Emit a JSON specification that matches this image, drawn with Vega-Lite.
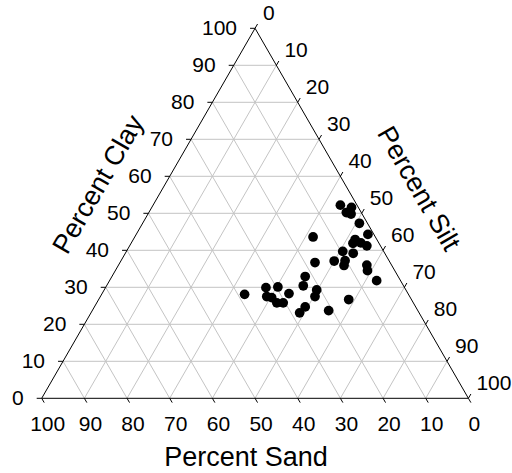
{
  "$schema": "https://vega.github.io/schema/vega-lite/v6.json",
  "width": 426.7,
  "height": 370,
  "autosize": "none",
  "padding": {"left": 41.7, "top": 28.3, "right": 43.6, "bottom": 74.7},
  "background": "white",
  "config": {"view": {"stroke": null}, "font": "Liberation Sans"},
  "datasets": {
    "lines": [
      {"kind": "grid", "clay1": 10, "silt1": 0, "clay2": 10, "silt2": 90},
      {"kind": "grid", "clay1": 20, "silt1": 0, "clay2": 20, "silt2": 80},
      {"kind": "grid", "clay1": 30, "silt1": 0, "clay2": 30, "silt2": 70},
      {"kind": "grid", "clay1": 40, "silt1": 0, "clay2": 40, "silt2": 60},
      {"kind": "grid", "clay1": 50, "silt1": 0, "clay2": 50, "silt2": 50},
      {"kind": "grid", "clay1": 60, "silt1": 0, "clay2": 60, "silt2": 40},
      {"kind": "grid", "clay1": 70, "silt1": 0, "clay2": 70, "silt2": 30},
      {"kind": "grid", "clay1": 80, "silt1": 0, "clay2": 80, "silt2": 20},
      {"kind": "grid", "clay1": 90, "silt1": 0, "clay2": 90, "silt2": 10},
      {"kind": "grid", "clay1": 0, "silt1": 90, "clay2": 90, "silt2": 0},
      {"kind": "grid", "clay1": 0, "silt1": 80, "clay2": 80, "silt2": 0},
      {"kind": "grid", "clay1": 0, "silt1": 70, "clay2": 70, "silt2": 0},
      {"kind": "grid", "clay1": 0, "silt1": 60, "clay2": 60, "silt2": 0},
      {"kind": "grid", "clay1": 0, "silt1": 50, "clay2": 50, "silt2": 0},
      {"kind": "grid", "clay1": 0, "silt1": 40, "clay2": 40, "silt2": 0},
      {"kind": "grid", "clay1": 0, "silt1": 30, "clay2": 30, "silt2": 0},
      {"kind": "grid", "clay1": 0, "silt1": 20, "clay2": 20, "silt2": 0},
      {"kind": "grid", "clay1": 0, "silt1": 10, "clay2": 10, "silt2": 0},
      {"kind": "grid", "clay1": 0, "silt1": 10, "clay2": 90, "silt2": 10},
      {"kind": "grid", "clay1": 0, "silt1": 20, "clay2": 80, "silt2": 20},
      {"kind": "grid", "clay1": 0, "silt1": 30, "clay2": 70, "silt2": 30},
      {"kind": "grid", "clay1": 0, "silt1": 40, "clay2": 60, "silt2": 40},
      {"kind": "grid", "clay1": 0, "silt1": 50, "clay2": 50, "silt2": 50},
      {"kind": "grid", "clay1": 0, "silt1": 60, "clay2": 40, "silt2": 60},
      {"kind": "grid", "clay1": 0, "silt1": 70, "clay2": 30, "silt2": 70},
      {"kind": "grid", "clay1": 0, "silt1": 80, "clay2": 20, "silt2": 80},
      {"kind": "grid", "clay1": 0, "silt1": 90, "clay2": 10, "silt2": 90},
      {"kind": "edge", "clay1": 0, "silt1": 0, "clay2": 100, "silt2": 0},
      {"kind": "edge", "clay1": 100, "silt1": 0, "clay2": 0, "silt2": 100},
      {"kind": "edge", "clay1": 0, "silt1": 0, "clay2": 0, "silt2": 100}
    ],
    "ticks": [
      {"axis": "sand", "value": 100, "clay": 0, "silt": 0},
      {"axis": "sand", "value": 90, "clay": 0, "silt": 10},
      {"axis": "sand", "value": 80, "clay": 0, "silt": 20},
      {"axis": "sand", "value": 70, "clay": 0, "silt": 30},
      {"axis": "sand", "value": 60, "clay": 0, "silt": 40},
      {"axis": "sand", "value": 50, "clay": 0, "silt": 50},
      {"axis": "sand", "value": 40, "clay": 0, "silt": 60},
      {"axis": "sand", "value": 30, "clay": 0, "silt": 70},
      {"axis": "sand", "value": 20, "clay": 0, "silt": 80},
      {"axis": "sand", "value": 10, "clay": 0, "silt": 90},
      {"axis": "sand", "value": 0, "clay": 0, "silt": 100},
      {"axis": "clay", "value": 0, "clay": 0, "silt": 0},
      {"axis": "clay", "value": 10, "clay": 10, "silt": 0},
      {"axis": "clay", "value": 20, "clay": 20, "silt": 0},
      {"axis": "clay", "value": 30, "clay": 30, "silt": 0},
      {"axis": "clay", "value": 40, "clay": 40, "silt": 0},
      {"axis": "clay", "value": 50, "clay": 50, "silt": 0},
      {"axis": "clay", "value": 60, "clay": 60, "silt": 0},
      {"axis": "clay", "value": 70, "clay": 70, "silt": 0},
      {"axis": "clay", "value": 80, "clay": 80, "silt": 0},
      {"axis": "clay", "value": 90, "clay": 90, "silt": 0},
      {"axis": "clay", "value": 100, "clay": 100, "silt": 0},
      {"axis": "silt", "value": 0, "clay": 100, "silt": 0},
      {"axis": "silt", "value": 10, "clay": 90, "silt": 10},
      {"axis": "silt", "value": 20, "clay": 80, "silt": 20},
      {"axis": "silt", "value": 30, "clay": 70, "silt": 30},
      {"axis": "silt", "value": 40, "clay": 60, "silt": 40},
      {"axis": "silt", "value": 50, "clay": 50, "silt": 50},
      {"axis": "silt", "value": 60, "clay": 40, "silt": 60},
      {"axis": "silt", "value": 70, "clay": 30, "silt": 70},
      {"axis": "silt", "value": 80, "clay": 20, "silt": 80},
      {"axis": "silt", "value": 90, "clay": 10, "silt": 90},
      {"axis": "silt", "value": 100, "clay": 0, "silt": 100}
    ],
    "titles": [
      {"axis": "sand", "title": "Percent Sand", "clay": 0, "silt": 50},
      {"axis": "clay", "title": "Percent Clay", "clay": 50, "silt": 0},
      {"axis": "silt", "title": "Percent Silt", "clay": 50, "silt": 50}
    ],
    "samples": [
      {"sand": 3.9, "clay": 52.2, "silt": 43.9},
      {"sand": 1.6, "clay": 51.6, "silt": 46.8},
      {"sand": 3.5, "clay": 50.2, "silt": 46.3},
      {"sand": 2.6, "clay": 49.8, "silt": 47.6},
      {"sand": 1.9, "clay": 47.3, "silt": 50.8},
      {"sand": 1.4, "clay": 44.3, "silt": 54.3},
      {"sand": 14.6, "clay": 43.6, "silt": 41.8},
      {"sand": 5.1, "clay": 42.9, "silt": 52.0},
      {"sand": 6.1, "clay": 41.9, "silt": 52.0},
      {"sand": 4.2, "clay": 42.0, "silt": 53.8},
      {"sand": 3.2, "clay": 41.2, "silt": 55.6},
      {"sand": 9.6, "clay": 39.7, "silt": 50.7},
      {"sand": 7.4, "clay": 39.2, "silt": 53.4},
      {"sand": 12.9, "clay": 37.1, "silt": 50.0},
      {"sand": 10.3, "clay": 37.2, "silt": 52.5},
      {"sand": 11.2, "clay": 35.9, "silt": 52.9},
      {"sand": 17.6, "clay": 36.7, "silt": 45.7},
      {"sand": 5.8, "clay": 36.0, "silt": 58.2},
      {"sand": 6.4, "clay": 34.5, "silt": 59.1},
      {"sand": 5.6, "clay": 31.8, "silt": 62.6},
      {"sand": 21.8, "clay": 32.9, "silt": 45.3},
      {"sand": 23.5, "clay": 30.4, "silt": 46.1},
      {"sand": 20.9, "clay": 29.3, "silt": 49.8},
      {"sand": 22.2, "clay": 27.5, "silt": 50.3},
      {"sand": 14.7, "clay": 26.7, "silt": 58.6},
      {"sand": 38.4, "clay": 28.1, "silt": 33.5},
      {"sand": 32.5, "clay": 29.9, "silt": 37.6},
      {"sand": 29.6, "clay": 30.1, "silt": 40.3},
      {"sand": 33.5, "clay": 27.5, "silt": 39.0},
      {"sand": 32.5, "clay": 27.2, "silt": 40.3},
      {"sand": 27.9, "clay": 28.3, "silt": 43.8},
      {"sand": 32.0, "clay": 25.8, "silt": 42.2},
      {"sand": 30.5, "clay": 25.8, "silt": 43.7},
      {"sand": 25.9, "clay": 24.7, "silt": 49.4},
      {"sand": 28.0, "clay": 23.1, "silt": 48.9},
      {"sand": 20.9, "clay": 23.7, "silt": 55.4}
    ]
  },
  "layer": [
    {
      "data": {"name": "lines"},
      "transform": [
        {"filter": "datum.kind == 'grid'"},
        {"calculate": "datum.silt1 + datum.clay1 / 2", "as": "x1"},
        {"calculate": "datum.silt2 + datum.clay2 / 2", "as": "x2"}
      ],
      "mark": {"type": "rule", "color": "#c4c4c4", "strokeWidth": 1},
      "encoding": {
        "x": {"field": "x1", "type": "quantitative", "scale": {"domain": [0, 100]}, "axis": null},
        "y": {"field": "clay1", "type": "quantitative", "scale": {"domain": [0, 100]}, "axis": null},
        "x2": {"field": "x2"},
        "y2": {"field": "clay2"}
      }
    },
    {
      "data": {"name": "lines"},
      "transform": [
        {"filter": "datum.kind == 'edge'"},
        {"calculate": "datum.silt1 + datum.clay1 / 2", "as": "x1"},
        {"calculate": "datum.silt2 + datum.clay2 / 2", "as": "x2"}
      ],
      "mark": {"type": "rule", "color": "black", "strokeWidth": 1},
      "encoding": {
        "x": {"field": "x1", "type": "quantitative", "scale": {"domain": [0, 100]}, "axis": null},
        "y": {"field": "clay1", "type": "quantitative", "scale": {"domain": [0, 100]}, "axis": null},
        "x2": {"field": "x2"},
        "y2": {"field": "clay2"}
      }
    },
    {
      "data": {"name": "ticks"},
      "transform": [
        {"filter": "datum.axis == 'sand'"},
        {"calculate": "datum.silt + datum.clay / 2", "as": "px"}
      ],
      "layer": [
        {
          "mark": {"type": "rule", "color": "black", "strokeWidth": 1, "x2Offset": 2.5, "y2Offset": 4.3},
          "encoding": {
            "x": {"field": "px", "type": "quantitative", "scale": {"domain": [0, 100]}, "axis": null},
            "y": {"field": "clay", "type": "quantitative", "scale": {"domain": [0, 100]}, "axis": null},
            "x2": {"field": "px"},
            "y2": {"field": "clay"}
          }
        },
        {
          "mark": {"type": "text", "fontSize": 21, "color": "black", "align": "center", "baseline": "middle", "dx": 6, "dy": 27},
          "encoding": {
            "x": {"field": "px", "type": "quantitative", "scale": {"domain": [0, 100]}, "axis": null},
            "y": {"field": "clay", "type": "quantitative", "scale": {"domain": [0, 100]}, "axis": null},
            "text": {"field": "value", "type": "quantitative"}
          }
        }
      ]
    },
    {
      "data": {"name": "ticks"},
      "transform": [
        {"filter": "datum.axis == 'clay'"},
        {"calculate": "datum.silt + datum.clay / 2", "as": "px"}
      ],
      "layer": [
        {
          "mark": {"type": "rule", "color": "black", "strokeWidth": 1, "x2Offset": -5, "y2Offset": 0},
          "encoding": {
            "x": {"field": "px", "type": "quantitative", "scale": {"domain": [0, 100]}, "axis": null},
            "y": {"field": "clay", "type": "quantitative", "scale": {"domain": [0, 100]}, "axis": null},
            "x2": {"field": "px"},
            "y2": {"field": "clay"}
          }
        },
        {
          "mark": {"type": "text", "fontSize": 21, "color": "black", "align": "right", "baseline": "middle", "dx": -18, "dy": 1},
          "encoding": {
            "x": {"field": "px", "type": "quantitative", "scale": {"domain": [0, 100]}, "axis": null},
            "y": {"field": "clay", "type": "quantitative", "scale": {"domain": [0, 100]}, "axis": null},
            "text": {"field": "value", "type": "quantitative"}
          }
        }
      ]
    },
    {
      "data": {"name": "ticks"},
      "transform": [
        {"filter": "datum.axis == 'silt'"},
        {"calculate": "datum.silt + datum.clay / 2", "as": "px"}
      ],
      "layer": [
        {
          "mark": {"type": "rule", "color": "black", "strokeWidth": 1, "x2Offset": 2.5, "y2Offset": -4.3},
          "encoding": {
            "x": {"field": "px", "type": "quantitative", "scale": {"domain": [0, 100]}, "axis": null},
            "y": {"field": "clay", "type": "quantitative", "scale": {"domain": [0, 100]}, "axis": null},
            "x2": {"field": "px"},
            "y2": {"field": "clay"}
          }
        },
        {
          "mark": {"type": "text", "fontSize": 21, "color": "black", "align": "left", "baseline": "middle", "dx": 8, "dy": -14},
          "encoding": {
            "x": {"field": "px", "type": "quantitative", "scale": {"domain": [0, 100]}, "axis": null},
            "y": {"field": "clay", "type": "quantitative", "scale": {"domain": [0, 100]}, "axis": null},
            "text": {"field": "value", "type": "quantitative"}
          }
        }
      ]
    },
    {
      "data": {"name": "titles"},
      "transform": [
        {"calculate": "datum.silt + datum.clay / 2", "as": "px"}
      ],
      "layer": [
        {
          "transform": [{"filter": "datum.axis == 'sand'"}],
          "mark": {"type": "text", "fontSize": 27, "color": "black", "align": "center", "baseline": "middle", "dx": -9, "dy": 60},
          "encoding": {
            "x": {"field": "px", "type": "quantitative", "scale": {"domain": [0, 100]}, "axis": null},
            "y": {"field": "clay", "type": "quantitative", "scale": {"domain": [0, 100]}, "axis": null},
            "text": {"field": "title"}
          }
        },
        {
          "transform": [{"filter": "datum.axis == 'clay'"}],
          "mark": {"type": "text", "fontSize": 27, "color": "black", "align": "center", "baseline": "middle", "angle": -60, "dx": 0, "dy": -57},
          "encoding": {
            "x": {"field": "px", "type": "quantitative", "scale": {"domain": [0, 100]}, "axis": null},
            "y": {"field": "clay", "type": "quantitative", "scale": {"domain": [0, 100]}, "axis": null},
            "text": {"field": "title"}
          }
        },
        {
          "transform": [{"filter": "datum.axis == 'silt'"}],
          "mark": {"type": "text", "fontSize": 27, "color": "black", "align": "center", "baseline": "middle", "angle": 60, "dx": 7, "dy": -61},
          "encoding": {
            "x": {"field": "px", "type": "quantitative", "scale": {"domain": [0, 100]}, "axis": null},
            "y": {"field": "clay", "type": "quantitative", "scale": {"domain": [0, 100]}, "axis": null},
            "text": {"field": "title"}
          }
        }
      ]
    },
    {
      "data": {"name": "samples"},
      "transform": [
        {"calculate": "datum.silt + datum.clay / 2", "as": "px"}
      ],
      "mark": {"type": "circle", "size": 95, "color": "black", "opacity": 1},
      "encoding": {
        "x": {"field": "px", "type": "quantitative", "scale": {"domain": [0, 100]}, "axis": null},
        "y": {"field": "clay", "type": "quantitative", "scale": {"domain": [0, 100]}, "axis": null}
      }
    }
  ]
}
